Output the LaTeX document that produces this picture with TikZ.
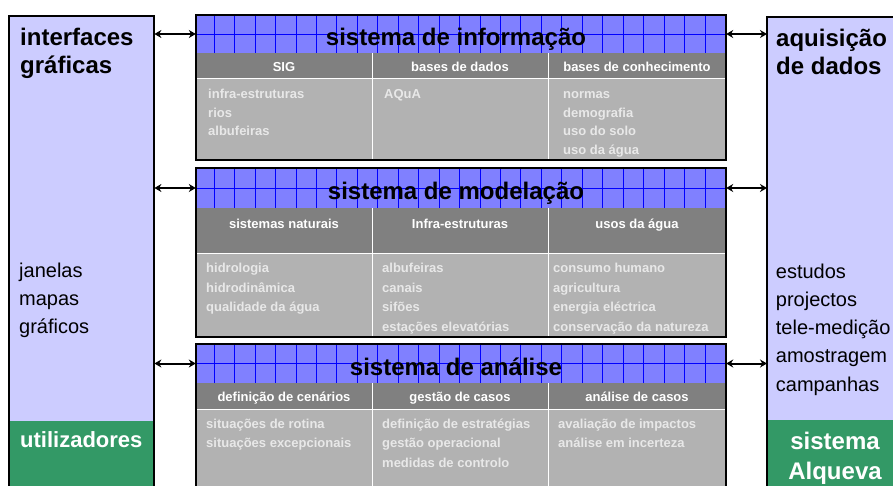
\documentclass[tikz,border=0pt]{standalone}
\usepackage{fontspec}
\setmainfont{Liberation Sans}
\usepackage{tikz}
\usepackage{xcolor}
\usetikzlibrary{arrows.meta}
\definecolor{lavbox}{RGB}{204,204,255}
\definecolor{greenbox}{RGB}{51,153,102}
\definecolor{hdrblue}{RGB}{128,128,255}
\definecolor{gridblue}{RGB}{0,0,255}
\definecolor{colgray}{RGB}{128,128,128}
\definecolor{bodygray}{RGB}{178,178,178}
\definecolor{bodytext}{RGB}{232,232,232}

\begin{document}
\begin{tikzpicture}[x=1pt,y=-1pt,>={Stealth[length=7pt,width=8pt]},
  sidebox/.style={fill=lavbox,anchor=north west,minimum width=145pt,minimum height=480pt,inner sep=0pt},
  hdr/.style={fill=hdrblue,minimum width=530pt,inner sep=0pt},
  title/.style={font=\fontsize{24}{28}\selectfont\bfseries,text height=17.5pt,text depth=5pt,inner sep=0pt},
  colhead/.style={font=\fontsize{13}{16}\selectfont\bfseries,text=white,text height=9.5pt,text depth=2.8pt,inner sep=0pt},
  cell/.style={font=\fontsize{13}{18.5}\selectfont\bfseries,text=bodytext,align=left,anchor=north west,inner sep=0pt},
  cellb/.style={cell,font=\fontsize{13}{19.5}\selectfont\bfseries},
  sidehead/.style={font=\fontsize{24}{28.5}\selectfont\bfseries,align=left,anchor=north west,inner sep=0pt},
  sidetxt/.style={font=\fontsize{20}{28.3}\selectfont,align=left,anchor=north west,inner sep=0pt},
  link/.style={<->,line width=2pt}]
  \useasboundingbox (0,0) rectangle (893,486);

  % side panels
  \node[sidebox] (ui) at (9,16) {};
  \fill[greenbox] (9,421) rectangle (154,496);
  \draw[line width=2pt] (ui.north west) rectangle (ui.south east);
  \node[sidebox] (acq) at (767,17) {};
  \fill[greenbox] (767,420) rectangle (912,497);
  \draw[line width=2pt] (acq.north west) rectangle (acq.south east);

  \node[sidehead] (ui-t) at (20,25) {\strut interfaces\\gráficas};
  \node[sidetxt] (ui-l) at (19,257) {\strut janelas\\mapas\\gráficos};
  \node[font=\fontsize{22}{26}\selectfont\bfseries,text=white,anchor=base west,inner sep=0pt] (users) at (20,447.5) {utilizadores};
  \node[sidehead] (acq-t) at (776,26) {\strut aquisição\\de dados};
  \node[sidetxt] (acq-l) at (775.7,258) {\strut estudos\\projectos\\tele-medição\\amostragem\\campanhas};
  \node[font=\fontsize{24}{30}\selectfont\bfseries,text=white,align=center,anchor=north,inner sep=0pt] (alq) at (835,428.5) {\strut sistema\\Alqueva};

  % column rows of the three systems
  \fill[bodygray] (196,53) rectangle (726,160);
  \fill[colgray] (196,53) rectangle (726,79);
  \fill[bodygray] (196,208) rectangle (726,337);
  \fill[colgray] (196,208) rectangle (726,253);
  \fill[bodygray] (196,383) rectangle (726,495);
  \fill[colgray] (196,383) rectangle (726,409);
  \draw[white,line width=1pt] (196,79) -- (726,79) (372,53) -- (372,160) (548,53) -- (548,160);
  \draw[white,line width=1pt] (196,253) -- (726,253) (372,208) -- (372,337) (548,208) -- (548,337);
  \draw[white,line width=1pt] (196,409) -- (726,409) (372,383) -- (372,495) (548,383) -- (548,495);

  % blue headers
  \node[hdr,minimum height=38pt] (info) at (461,34) {};
  \node[hdr,minimum height=40pt] (model) at (461,188) {};
  \node[hdr,minimum height=39pt] (anal) at (461,363.5) {};
  \foreach \t/\b in {15/53,168/208,344/383} {
    \foreach \i in {0,...,24}
      \draw[gridblue,line width=0.6pt] (214+\i*20.45,\t) -- (214+\i*20.45,\b);
    \draw[gridblue,line width=0.6pt] (196,{(\t+\b)/2}) -- (726,{(\t+\b)/2});
  }
  \node[title] (info-t) at (456,39.5) {sistema de informação};
  \node[title] (model-t) at (456,193.5) {sistema de modelação};
  \node[title] (anal-t) at (456,369) {sistema de análise};

  % frames
  \draw[line width=2pt] (196,15) rectangle (726,160);
  \draw[line width=2pt] (196,168) rectangle (726,337);
  \draw[line width=2pt] (196,344) rectangle (726,495);

  % sistema de informação
  \node[colhead] (sig) at (284,68) {SIG};
  \node[colhead] (bd) at (460,68) {bases de dados};
  \node[colhead] (bc) at (637,68) {bases de conhecimento};
  \node[cell] (sig-l) at (208,85.5) {\strut infra-estruturas\\rios\\albufeiras};
  \node[cell] (bd-l) at (384,85.5) {\strut AQuA};
  \node[cell] (bc-l) at (563,85.5) {\strut normas\\demografia\\uso do solo\\uso da água};

  % sistema de modelação
  \node[colhead] (nat) at (284,225) {sistemas naturais};
  \node[colhead] (infra) at (460,225) {Infra-estruturas};
  \node[colhead] (usos) at (637,225) {usos da água};
  \node[cellb] (nat-l) at (206,258.8) {\strut hidrologia\\hidrodinâmica\\qualidade da água};
  \node[cellb] (infra-l) at (382,258.8) {\strut albufeiras\\canais\\sifões\\estações elevatórias};
  \node[cellb] (usos-l) at (553,258.8) {\strut consumo humano\\agricultura\\energia eléctrica\\conservação da natureza};

  % sistema de análise
  \node[colhead] (cen) at (284,398) {definição de cenários};
  \node[colhead] (gest) at (460,398) {gestão de casos};
  \node[colhead] (cas) at (637,398) {análise de casos};
  \node[cellb] (cen-l) at (206,414.5) {\strut situações de rotina\\situações excepcionais};
  \node[cellb] (gest-l) at (382,414.5) {\strut definição de estratégias\\gestão operacional\\medidas de controlo};
  \node[cellb] (cas-l) at (558,414.5) {\strut avaliação de impactos\\análise em incerteza};

  % links
  \draw[link] (ui.east |- info.west) -- (info.west);
  \draw[link] (ui.east |- model.west) -- (model.west);
  \draw[link] (ui.east |- anal.west) -- (anal.west);
  \draw[link] (info.east) -- (acq.west |- info.east);
  \draw[link] (model.east) -- (acq.west |- model.east);
  \draw[link] (anal.east) -- (acq.west |- anal.east);
\end{tikzpicture}
\end{document}
